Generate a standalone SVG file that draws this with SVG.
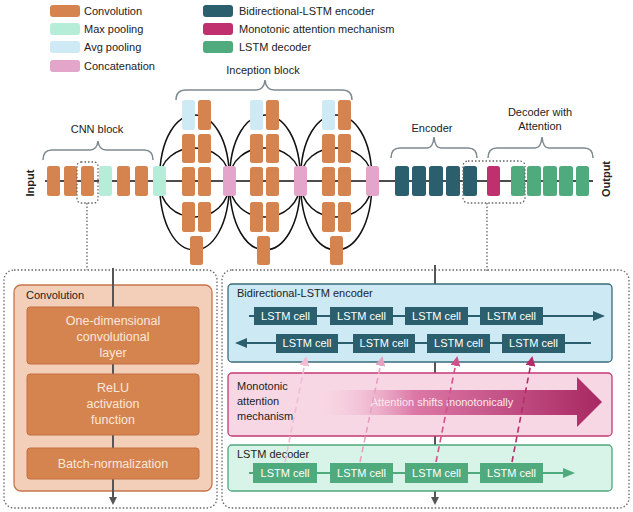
<svg xmlns="http://www.w3.org/2000/svg" width="633" height="512" viewBox="0 0 633 512">
<style>
text{font-family:"Liberation Sans",Arial,sans-serif;font-size:11px;fill:#222}
.conv{fill:#d5834f}
.maxp{fill:#b5edd9}
.avgp{fill:#cdeaf5}
.cat{fill:#e3a5c9}
.enc{fill:#2b5f6e}
.att{fill:#c0306e}
.dec{fill:#4fab7e}
.brace{fill:none;stroke:#7d8a90;stroke-width:1.5}
.wire{fill:none;stroke:#111;stroke-width:1.5}
.dot{fill:none;stroke:#666;stroke-width:1.3;stroke-dasharray:1.5 2}
.cell text,.celltxt{fill:#fff;font-size:11px;text-anchor:middle}
.lt{fill:#fbe7da;font-size:12.5px;text-anchor:middle}
</style>
<defs>
<marker id="ag" markerWidth="8" markerHeight="8" refX="6" refY="4" orient="auto" markerUnits="userSpaceOnUse"><path d="M0,0 L8,4 L0,8 z" fill="#555"/></marker>
<marker id="at" markerWidth="12" markerHeight="10" refX="10" refY="5" orient="auto" markerUnits="userSpaceOnUse"><path d="M0,0 L12,5 L0,10 z" fill="#2b5f6e"/></marker>
<marker id="ad" markerWidth="12" markerHeight="10" refX="10" refY="5" orient="auto" markerUnits="userSpaceOnUse"><path d="M0,0 L12,5 L0,10 z" fill="#4fab7e"/></marker>
<marker id="p1" markerWidth="10" markerHeight="10" refX="8" refY="5" orient="auto" markerUnits="userSpaceOnUse"><path d="M0,0 L10,5 L0,10 z" fill="#f2bdd4"/></marker>
<marker id="p2" markerWidth="10" markerHeight="10" refX="8" refY="5" orient="auto" markerUnits="userSpaceOnUse"><path d="M0,0 L10,5 L0,10 z" fill="#e6a0c0"/></marker>
<marker id="p3" markerWidth="10" markerHeight="10" refX="8" refY="5" orient="auto" markerUnits="userSpaceOnUse"><path d="M0,0 L10,5 L0,10 z" fill="#d0508a"/></marker>
<marker id="p4" markerWidth="10" markerHeight="10" refX="8" refY="5" orient="auto" markerUnits="userSpaceOnUse"><path d="M0,0 L10,5 L0,10 z" fill="#b42c68"/></marker>
<linearGradient id="gArrow" x1="313" y1="0" x2="602" y2="0" gradientUnits="userSpaceOnUse">
<stop offset="0" stop-color="#f8d7e4" stop-opacity="0"/>
<stop offset="0.35" stop-color="#dc78a6"/>
<stop offset="1" stop-color="#a82862"/>
</linearGradient>
</defs>

<!-- legend -->
<g id="legend">
<rect class="conv" x="50" y="5" width="30" height="12" rx="3"/><text x="84" y="15">Convolution</text>
<rect class="maxp" x="50" y="23" width="30" height="12" rx="3"/><text x="84" y="33">Max pooling</text>
<rect class="avgp" x="50" y="41" width="30" height="12" rx="3"/><text x="84" y="51">Avg pooling</text>
<rect class="cat" x="50" y="60" width="30" height="12" rx="3"/><text x="84" y="70">Concatenation</text>
<rect class="enc" x="203" y="5" width="30" height="12" rx="3"/><text x="239" y="15">Bidirectional-LSTM encoder</text>
<rect class="att" x="203" y="23" width="30" height="12" rx="3"/><text x="239" y="33">Monotonic attention mechanism</text>
<rect class="dec" x="203" y="41" width="30" height="12" rx="3"/><text x="239" y="51">LSTM decoder</text>
</g>

<!-- braces and labels -->
<g id="braces">
<path class="brace" d="M43,160 Q43,150 52,150 L90,150 Q97,150 98,141 Q99,150 106,150 L144,150 Q153,150 153,160"/>
<text x="97" y="133" text-anchor="middle">CNN block</text>
<path class="brace" d="M176,100 Q176,90 186,90 L256,90 Q264,90 265,80 Q266,90 274,90 L342,90 Q352,90 352,100"/>
<text x="263" y="74" text-anchor="middle">Inception block</text>
<path class="brace" d="M391,158 Q391,148 400,148 L427,148 Q433,148 434,137 Q435,148 441,148 L468,148 Q477,148 477,158"/>
<text x="432" y="132" text-anchor="middle">Encoder</text>
<path class="brace" d="M488,158 Q488,148 497,148 L535,148 Q541,148 542,137 Q543,148 549,148 L584,148 Q593,148 593,158"/>
<text x="540" y="116" text-anchor="middle">Decoder with</text>
<text x="540" y="130" text-anchor="middle">Attention</text>
</g>

<text x="0" y="0" font-weight="bold" text-anchor="middle" transform="translate(34,183) rotate(-90)">Input</text>
<text x="0" y="0" font-weight="bold" text-anchor="middle" transform="translate(610,179) rotate(-90)">Output</text>

<!-- connectors -->
<g id="connectors">
<line class="wire" x1="45" y1="181" x2="593" y2="181"/>
<!-- inception module 1: nodes 159.5 -> 229.5 -->
<path class="wire" d="M159.5,181 C159.5,93 229.5,93 229.5,181 M159.5,181 C159.5,137 229.5,137 229.5,181 M159.5,181 C159.5,229 229.5,229 229.5,181 M159.5,181 C159.5,273 229.5,273 229.5,181"/>
<path class="wire" d="M229.5,181 C229.5,93 300.5,93 300.5,181 M229.5,181 C229.5,137 300.5,137 300.5,181 M229.5,181 C229.5,229 300.5,229 300.5,181 M229.5,181 C229.5,273 300.5,273 300.5,181"/>
<path class="wire" d="M300.5,181 C300.5,93 372,93 372,181 M300.5,181 C300.5,137 372,137 372,181 M300.5,181 C300.5,229 372,229 372,181 M300.5,181 C300.5,273 372,273 372,181"/>
<!-- dotted zoom links -->
<line class="dot" x1="87" y1="203" x2="87" y2="270"/>
<line class="dot" x1="487" y1="203" x2="487" y2="272"/>
</g>

<!-- CNN block -->
<g id="cnn-block">
<rect class="conv" x="47" y="166" width="13" height="30" rx="2.5"/>
<rect class="conv" x="64" y="166" width="13" height="30" rx="2.5"/>
<rect class="conv" x="81" y="166" width="13" height="30" rx="2.5"/>
<rect class="maxp" x="99" y="166" width="13" height="30" rx="2.5"/>
<rect class="conv" x="117" y="166" width="13" height="30" rx="2.5"/>
<rect class="conv" x="135" y="166" width="13" height="30" rx="2.5"/>
<rect class="maxp" x="153" y="166" width="13" height="30" rx="2.5"/>
<rect class="dot" x="77" y="162" width="21" height="41" rx="4"/>
</g>

<!-- inception modules -->
<g id="inception-1">
<rect class="avgp" x="182" y="100" width="13" height="30" rx="2.5"/><rect class="conv" x="198" y="100" width="13" height="30" rx="2.5"/>
<rect class="conv" x="182" y="134" width="13" height="29" rx="2.5"/><rect class="conv" x="198" y="134" width="13" height="29" rx="2.5"/>
<rect class="conv" x="182" y="167" width="13" height="29" rx="2.5"/><rect class="conv" x="198" y="167" width="13" height="29" rx="2.5"/>
<rect class="conv" x="182" y="202" width="13" height="30" rx="2.5"/><rect class="conv" x="198" y="202" width="13" height="30" rx="2.5"/>
<rect class="conv" x="190" y="236" width="13" height="29" rx="2.5"/>
<rect class="cat" x="223" y="166" width="13" height="30" rx="2.5"/>
</g>
<g id="inception-2">
<rect class="avgp" x="250" y="100" width="13" height="30" rx="2.5"/><rect class="conv" x="266" y="100" width="13" height="30" rx="2.5"/>
<rect class="conv" x="250" y="134" width="13" height="29" rx="2.5"/><rect class="conv" x="266" y="134" width="13" height="29" rx="2.5"/>
<rect class="conv" x="250" y="167" width="13" height="29" rx="2.5"/><rect class="conv" x="266" y="167" width="13" height="29" rx="2.5"/>
<rect class="conv" x="250" y="202" width="13" height="30" rx="2.5"/><rect class="conv" x="266" y="202" width="13" height="30" rx="2.5"/>
<rect class="conv" x="257" y="236" width="13" height="29" rx="2.5"/>
<rect class="cat" x="294" y="166" width="13" height="30" rx="2.5"/>
</g>
<g id="inception-3">
<rect class="avgp" x="322" y="100" width="13" height="30" rx="2.5"/><rect class="conv" x="338" y="100" width="13" height="30" rx="2.5"/>
<rect class="conv" x="322" y="134" width="13" height="29" rx="2.5"/><rect class="conv" x="338" y="134" width="13" height="29" rx="2.5"/>
<rect class="conv" x="322" y="167" width="13" height="29" rx="2.5"/><rect class="conv" x="338" y="167" width="13" height="29" rx="2.5"/>
<rect class="conv" x="322" y="202" width="13" height="30" rx="2.5"/><rect class="conv" x="338" y="202" width="13" height="30" rx="2.5"/>
<rect class="conv" x="330" y="236" width="13" height="29" rx="2.5"/>
<rect class="cat" x="366" y="166" width="13" height="30" rx="2.5"/>
</g>

<!-- encoder / attention / decoder -->
<g id="encoder">
<rect class="enc" x="395" y="166" width="14" height="30" rx="2.5"/>
<rect class="enc" x="412" y="166" width="14" height="30" rx="2.5"/>
<rect class="enc" x="429" y="166" width="14" height="30" rx="2.5"/>
<rect class="enc" x="446" y="166" width="14" height="30" rx="2.5"/>
<rect class="enc" x="463" y="166" width="14" height="30" rx="2.5"/>
</g>
<g id="attention"><rect class="att" x="487" y="166" width="13" height="30" rx="2.5"/></g>
<g id="decoder">
<rect class="dec" x="511" y="166" width="14" height="30" rx="2.5"/>
<rect class="dec" x="527" y="166" width="14" height="30" rx="2.5"/>
<rect class="dec" x="543" y="166" width="14" height="30" rx="2.5"/>
<rect class="dec" x="559" y="166" width="14" height="30" rx="2.5"/>
<rect class="dec" x="576" y="166" width="13" height="30" rx="2.5"/>
</g>
<rect class="dot" x="463" y="161" width="62" height="42" rx="5"/>

<!-- left detail panel -->
<g id="convolution-detail">
<rect class="dot" x="4" y="270" width="213" height="238" rx="10"/>
<rect x="14" y="285" width="198" height="206" rx="7" fill="#f3cfba" stroke="#c8744a" stroke-width="1.3"/>
<text x="26" y="299" font-size="11px">Convolution</text>
<line x1="113" y1="268" x2="113" y2="503" stroke="#555" stroke-width="2" marker-end="url(#ag)"/>
<rect x="27" y="307" width="172" height="57" rx="3" fill="#d5834f" stroke="#c46f40"/>
<text class="lt" x="113" y="325">One-dimensional</text>
<text class="lt" x="113" y="341">convolutional</text>
<text class="lt" x="113" y="357">layer</text>
<rect x="27" y="374" width="172" height="61" rx="3" fill="#d5834f" stroke="#c46f40"/>
<text class="lt" x="113" y="392">ReLU</text>
<text class="lt" x="113" y="408">activation</text>
<text class="lt" x="113" y="424">function</text>
<rect x="27" y="448" width="172" height="31" rx="3" fill="#d5834f" stroke="#c46f40"/>
<text class="lt" x="113" y="468">Batch-normalization</text>
</g>

<!-- right detail panel -->
<g id="seq2seq-detail">
<rect class="dot" x="222" y="270" width="407" height="238" rx="10"/>
<line x1="435" y1="265" x2="435" y2="503" stroke="#555" stroke-width="2" marker-end="url(#ag)"/>
</g>

<g id="bilstm-encoder">
<rect x="228" y="284" width="384" height="78" rx="4" fill="#cdeaf4" stroke="#3a6b7a" stroke-width="1.3"/>
<text x="237" y="297">Bidirectional-LSTM encoder</text>
<line x1="249" y1="316" x2="603" y2="316" stroke="#2b5f6e" stroke-width="2" marker-end="url(#at)"/>
<line x1="591" y1="343" x2="237" y2="343" stroke="#2b5f6e" stroke-width="2" marker-end="url(#at)"/>
<rect class="enc" x="254" y="307" width="63" height="18"/><text class="celltxt" x="285.5" y="320">LSTM cell</text>
<rect class="enc" x="330" y="307" width="63" height="18"/><text class="celltxt" x="361.5" y="320">LSTM cell</text>
<rect class="enc" x="405" y="307" width="63" height="18"/><text class="celltxt" x="436.5" y="320">LSTM cell</text>
<rect class="enc" x="480" y="307" width="63" height="18"/><text class="celltxt" x="511.5" y="320">LSTM cell</text>
<rect class="enc" x="276" y="334" width="62" height="19"/><text class="celltxt" x="307" y="347">LSTM cell</text>
<rect class="enc" x="353" y="334" width="62" height="19"/><text class="celltxt" x="384" y="347">LSTM cell</text>
<rect class="enc" x="427" y="334" width="63" height="19"/><text class="celltxt" x="458.5" y="347">LSTM cell</text>
<rect class="enc" x="502" y="334" width="63" height="19"/><text class="celltxt" x="533.5" y="347">LSTM cell</text>
</g>

<g id="monotonic-attention">
<rect x="228" y="373" width="384" height="63" rx="4" fill="#f8d7e4" stroke="#c23a73" stroke-width="1.3"/>
<text x="237" y="390">Monotonic</text>
<text x="237" y="405">attention</text>
<text x="237" y="420">mechanism</text>
<polygon points="313,390 577,390 577,377 602,402 577,427 577,415 313,415" fill="url(#gArrow)"/>
<text x="442" y="406" text-anchor="middle" fill="#fde8f0" font-size="11.5px" style="fill:#fde8f0">Attention shifts monotonically</text>
</g>

<g id="lstm-decoder">
<rect x="228" y="445" width="384" height="46" rx="4" fill="#d8f4e8" stroke="#4ea67c" stroke-width="1.3"/>
<text x="237" y="458">LSTM decoder</text>
<line x1="249" y1="473" x2="573" y2="473" stroke="#4fab7e" stroke-width="2" marker-end="url(#ad)"/>
<rect class="dec" x="253" y="463" width="64" height="20"/><text class="celltxt" x="285" y="477">LSTM cell</text>
<rect class="dec" x="330" y="463" width="63" height="20"/><text class="celltxt" x="361.5" y="477">LSTM cell</text>
<rect class="dec" x="405" y="463" width="63" height="20"/><text class="celltxt" x="436.5" y="477">LSTM cell</text>
<rect class="dec" x="480" y="463" width="63" height="20"/><text class="celltxt" x="511.5" y="477">LSTM cell</text>
</g>

<g id="attention-links" fill="none" stroke-width="1.6" stroke-dasharray="6 4">
<line x1="285" y1="462" x2="306" y2="358" stroke="#f2bdd4" marker-end="url(#p1)"/>
<line x1="360" y1="462" x2="382" y2="358" stroke="#e6a0c0" marker-end="url(#p2)"/>
<line x1="436" y1="462" x2="457" y2="358" stroke="#d0508a" marker-end="url(#p3)"/>
<line x1="512" y1="462" x2="532" y2="358" stroke="#b42c68" marker-end="url(#p4)"/>
</g>
</svg>
